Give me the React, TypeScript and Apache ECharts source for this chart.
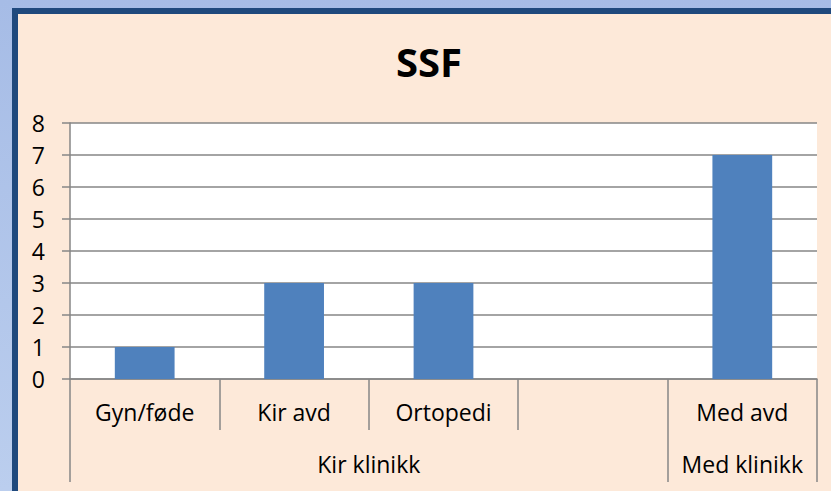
import React, { useEffect, useRef } from "react";
import * as echarts from "echarts";

const categories = ["Gyn/føde", "Kir avd", "Ortopedi", "", "Med avd"];
const values: (number | null)[] = [1, 3, 3, null, 7];
const groups = [
  { name: "Kir klinikk", span: 4 },
  { name: "Med klinikk", span: 1 },
];
const titleText = "SSF";
const yMin = 0;
const yMax = 8;
const yStep = 1;

const FONT = "'Open Sans', sans-serif";
const AXIS_COLOR = "#868686";

export default function App() {
  const ref = useRef<HTMLDivElement>(null);

  useEffect(() => {
    if (!ref.current) return;
    const chart = echarts.init(ref.current, null, { renderer: "svg" });

    const groupCenters: Record<string, string> = {};
    const groupTickIdx = new Set<number>();
    let start = 0;
    groups.forEach((g) => {
      groupCenters[String(start + g.span / 2)] = g.name;
      groupTickIdx.add(start);
      start += g.span;
    });

    chart.setOption({
      animation: false,
      textStyle: { fontFamily: FONT },
      title: {
        text: titleText,
        left: 391,
        top: 36,
        textStyle: { fontFamily: FONT, fontWeight: "bold", fontSize: 40, color: "#000" },
      },
      grid: {
        left: 70,
        right: 14,
        top: 123,
        bottom: 112,
        show: true,
        backgroundColor: "#ffffff",
        borderWidth: 0,
        outerBoundsMode: "none",
        containLabel: false,
      },
      xAxis: [
        {
          type: "category",
          data: categories,
          position: "bottom",
          axisLine: { show: true, lineStyle: { color: AXIS_COLOR, width: 1.5 } },
          axisTick: { show: true, interval: 0, length: 51, lineStyle: { color: AXIS_COLOR, width: 1.5 } },
          axisLabel: { interval: 0, margin: 21, fontSize: 23, color: "#000", fontFamily: FONT },
          splitLine: { show: false },
        },
        {
          type: "category",
          data: categories,
          position: "bottom",
          offset: 51,
          axisLine: { show: false },
          axisTick: {
            show: true,
            interval: (i: number) => groupTickIdx.has(i),
            length: 52,
            lineStyle: { color: AXIS_COLOR, width: 1.5 },
          },
          axisLabel: { show: false },
          splitLine: { show: false },
        },
        {
          type: "value",
          min: 0,
          max: categories.length,
          interval: 0.5,
          position: "bottom",
          axisLine: { show: false },
          axisTick: { show: false },
          splitLine: { show: false },
          axisLabel: {
            margin: 73,
            fontSize: 23,
            color: "#000",
            fontFamily: FONT,
            showMinLabel: true,
            showMaxLabel: true,
            formatter: (v: number) => groupCenters[String(v)] || "",
          },
        },
      ],
      yAxis: {
        type: "value",
        min: yMin,
        max: yMax,
        interval: yStep,
        axisLine: { show: true, lineStyle: { color: AXIS_COLOR, width: 1.5 } },
        axisTick: { show: true, length: 8, inside: false, lineStyle: { color: AXIS_COLOR, width: 1.5 } },
        splitLine: { show: true, lineStyle: { color: AXIS_COLOR, width: 1.5 } },
        axisLabel: { margin: 25, fontSize: 23, color: "#000", fontFamily: FONT },
      },
      series: [
        {
          type: "bar",
          xAxisIndex: 0,
          yAxisIndex: 0,
          data: values,
          barWidth: "40%",
          itemStyle: { color: "#4F81BD" },
        },
      ],
    });

    return () => chart.dispose();
  }, []);

  return (
    <div
      style={{
        position: "fixed",
        left: 0,
        top: 0,
        width: 831,
        height: 491,
        overflow: "hidden",
        background: "linear-gradient(180deg, #A6BCE6 0%, #BBCEEE 100%)",
      }}
    >
      <div
        style={{
          position: "absolute",
          left: 12,
          top: 8,
          width: 840,
          height: 500,
          boxSizing: "border-box",
          borderLeft: "6px solid #1F497D",
          borderTop: "6px solid #1F497D",
          background: "#FDE9D9",
        }}
      />
      <div ref={ref} style={{ position: "absolute", left: 0, top: 0, width: 831, height: 491 }} />
    </div>
  );
}
